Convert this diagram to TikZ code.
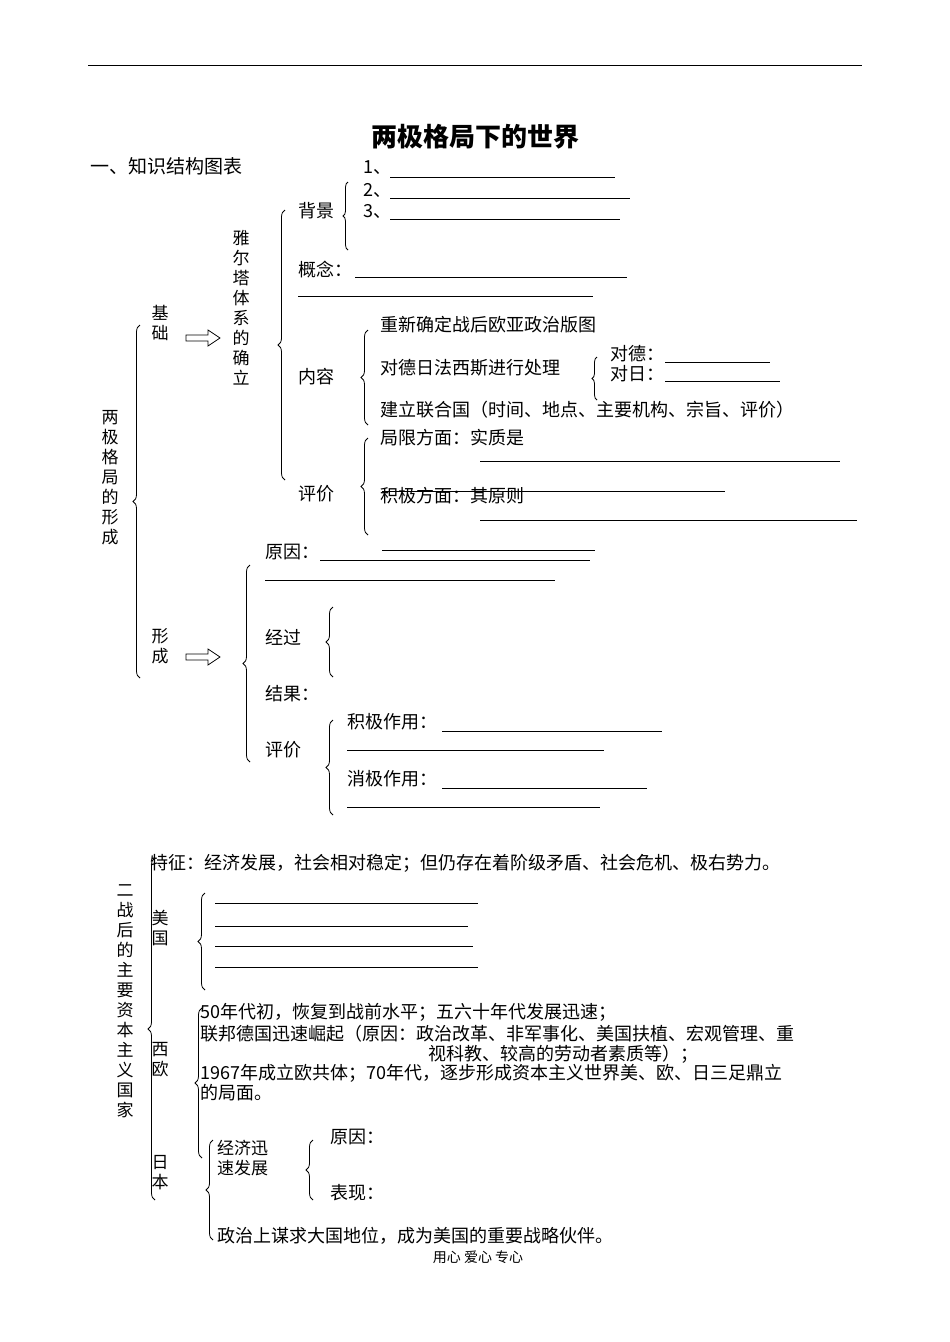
\documentclass[tikz,border=0pt]{standalone}
\usepackage{fontspec}
\setmainfont{Liberation Serif}
\newfontfamily\cjk{Noto Sans CJK SC}
\usetikzlibrary{decorations.pathreplacing}
\tikzset{
 x=1pt,y=-1pt,
 txt/.style={anchor=west,inner sep=0pt,font=\cjk\fontsize{18}{20}\selectfont},
 vt/.style={anchor=north,inner sep=0pt,align=center,font=\cjk\fontsize{17}{20}\selectfont},
 ul/.style={line width=0.8pt},
 br/.style={decorate,decoration={brace,amplitude=7pt},line width=0.8pt},
 sbr/.style={decorate,decoration={brace,amplitude=5pt},line width=0.8pt},
 harrow/.style={line width=0.8pt}
}
\newcommand{\harr}[2]{\draw[harrow] (#1,#2-3) -- (#1+22,#2-3) -- (#1+22,#2-8) -- (#1+34,#2) -- (#1+22,#2+8) -- (#1+22,#2+3) -- (#1,#2+3) -- cycle;}
\begin{document}
\begin{tikzpicture}
\useasboundingbox (0,0) rectangle (950,1342);
\draw[line width=1pt] (88,65) -- (862,65);
\node[inner sep=0pt,font=\cjk\bfseries\fontsize{26}{30}\selectfont] (title) at (475,137) {两极格局下的世界};
\node[txt,font=\cjk\fontsize{19}{22}\selectfont] (h1) at (90,166) {一、知识结构图表};
% Yalta
\node[txt] (n1) at (363,168) {1、}; \draw[ul] (390,177) -- (615,177);
\node[txt] (n2) at (363,190) {2、}; \draw[ul] (390,198) -- (630,198);
\node[txt] (n3) at (363,211) {3、}; \draw[ul] (390,219) -- (620,219);
\draw[sbr] (348,250) -- (348,182);
\node[txt] (bj) at (298,211) {背景};
\draw[br] (285,480) -- (285,210);
\node[vt] (yalta) at (241,230) {雅\\尔\\塔\\体\\系\\的\\确\\立};
\node[txt] (gn) at (298,270) {概念：}; \draw[ul] (355,277) -- (627,277); \draw[ul] (298,296) -- (593,296);
\draw[br] (368,425) -- (368,330);
\node[txt] (nr) at (298,377) {内容};
\node[txt] (c1) at (380,325) {重新确定战后欧亚政治版图};
\node[txt] (c2) at (380,368) {对德日法西斯进行处理};
\draw[sbr] (597,400) -- (597,357);
\node[txt] (dd) at (610,354) {对德：}; \draw[ul] (665,362) -- (770,362);
\node[txt] (dr) at (610,374) {对日：}; \draw[ul] (665,381) -- (780,381);
\node[txt] (c3) at (380,410) {建立联合国（时间、地点、主要机构、宗旨、评价）};
\draw[br] (368,535) -- (368,438);
\node[txt] (pj1) at (298,494) {评价};
\node[txt] (jx) at (380,438) {局限方面：实质是}; \draw[ul] (480,461) -- (840,461);
\node[txt] (jj) at (380,496) {积极方面：其原则}; \draw[ul] (382,491) -- (725,491);
\draw[ul] (480,520) -- (857,520); \draw[ul] (382,550) -- (595,550);
\node[vt] (jc) at (160,305) {基\\础};
\harr{186}{338}
\draw[br] (140,678) -- (140,325);
\node[vt] (lj) at (110,410) {两\\极\\格\\局\\的\\形\\成};
\node[vt] (xc) at (160,628) {形\\成};
\harr{186}{657}
\draw[br] (250,762) -- (250,565);
\node[txt] (yy) at (265,552) {原因：}; \draw[ul] (320,560) -- (590,560); \draw[ul] (265,580) -- (555,580);
\node[txt] (jg) at (265,637) {经过}; \draw[br] (333,677) -- (333,607);
\node[txt] (jgg) at (265,694) {结果：};
\node[txt] (pj2) at (265,750) {评价}; \draw[br] (333,815) -- (333,720);
\node[txt] (jjzy) at (347,722) {积极作用：}; \draw[ul] (442,731) -- (662,731); \draw[ul] (347,750) -- (604,750);
\node[txt] (xjzy) at (347,779) {消极作用：}; \draw[ul] (442,788) -- (647,788); \draw[ul] (347,807) -- (600,807);
% part 2
\draw[br] (155,1200) -- (155,858);
\node[vt] (ez) at (125,884) {二\\战\\后\\的\\主\\要\\资\\本\\主\\义\\国\\家};
\node[txt] (tz) at (150,863) {特征：经济发展，社会相对稳定；但仍存在着阶级矛盾、社会危机、极右势力。};
\node[vt] (mg) at (160,910) {美\\国};
\draw[br] (205,990) -- (205,893);
\draw[ul] (215,903) -- (478,903); \draw[ul] (215,926) -- (468,926);
\draw[ul] (215,946) -- (473,946); \draw[ul] (215,967) -- (478,967);
\node[vt] (xo) at (160,1042) {西\\欧};
\draw[br] (202,1158) -- (202,1008);
\node[txt] (x1) at (200,1012) {50年代初，恢复到战前水平；五六十年代发展迅速；};
\node[txt] (x2) at (200,1034) {联邦德国迅速崛起（原因：政治改革、非军事化、美国扶植、宏观管理、重};
\node[txt] (x3) at (428,1054) {视科教、较高的劳动者素质等）；};
\node[txt] (x4) at (200,1073) {1967年成立欧共体；70年代，逐步形成资本主义世界美、欧、日三足鼎立};
\node[txt] (x5) at (200,1093) {的局面。};
\node[vt] (rb) at (160,1155) {日\\本};
\draw[br] (213,1240) -- (213,1140);
\node[vt,anchor=north west,align=left] (jjxs) at (217,1140) {经济迅\\速发展};
\draw[br] (313,1200) -- (313,1140);
\node[txt] (yy2) at (330,1137) {原因：};
\node[txt] (bx) at (330,1193) {表现：};
\node[txt] (zz) at (217,1236) {政治上谋求大国地位，成为美国的重要战略伙伴。};
\node[inner sep=0pt,font=\cjk\fontsize{14}{16}\selectfont] (ft) at (478,1257) {用心\ 爱心\ 专心};
\end{tikzpicture}
\end{document}
